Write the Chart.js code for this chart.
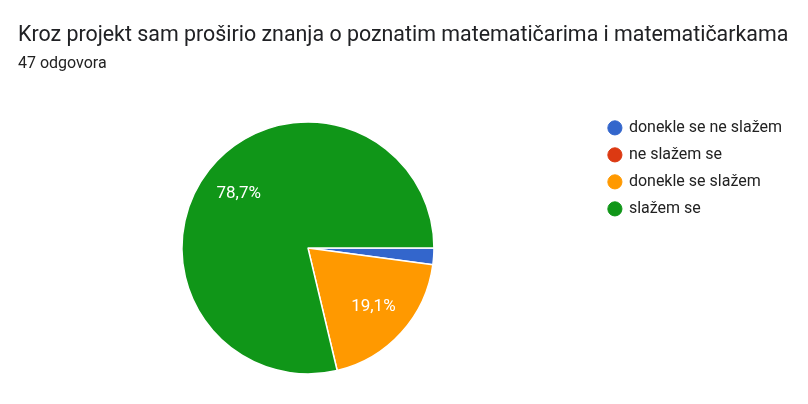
<!DOCTYPE html>
<html>
<head>
<meta charset="utf-8">
<script src="https://cdn.jsdelivr.net/npm/chart.js@4"></script>
<style>
  html, body { margin: 0; padding: 0; background: #fff; }
  #wrap { width: 808px; height: 404px; }
</style>
</head>
<body>
<div id="wrap"><canvas id="pieChart" width="808" height="404"></canvas></div>
<script>
// Podaci s grafikona (47 odgovora)
const naslov = 'Kroz projekt sam proširio znanja o poznatim matematičarima i matematičarkama';
const podnaslov = '47 odgovora';
const kategorije = ['donekle se ne slažem', 'ne slažem se', 'donekle se slažem', 'slažem se'];
const odgovori = [1, 0, 9, 37];
const boje = ['#3366cc', '#dc3912', '#ff9900', '#109618'];

Chart.defaults.font.family = 'Roboto';

// postoci unutar isječaka (kao u Google Formsu)
const postociPlugin = {
    id: 'postoci',
    afterDatasetsDraw(chart) {
        const ctx = chart.ctx;
        const meta = chart.getDatasetMeta(0);
        const ukupno = odgovori.reduce((a, b) => a + b, 0);
        ctx.save();
        ctx.font = '17px Roboto';
        ctx.fillStyle = '#ffffff';
        ctx.textAlign = 'center';
        ctx.textBaseline = 'middle';
        meta.data.forEach((arc, i) => {
            const pct = odgovori[i] / ukupno * 100;
            if (pct < 5) return;
            const kut = (arc.startAngle + arc.endAngle) / 2;
            const r = arc.outerRadius * 0.7;
            ctx.fillText(pct.toFixed(1).replace('.', ',') + '%', arc.x + Math.cos(kut) * r, arc.y + Math.sin(kut) * r);
        });
        ctx.restore();
    }
};

new Chart(document.getElementById('pieChart'), {
    type: 'pie',
    data: {
        labels: kategorije,
        datasets: [{
            data: odgovori,
            backgroundColor: boje,
            borderColor: '#ffffff',
            borderWidth: 1.5,
            radius: 126
        }]
    },
    options: {
        responsive: false,
        animation: false,
        rotation: 90,
        layout: { padding: { left: 18, right: 16, bottom: 17 } },
        plugins: {
            title: {
                display: true,
                text: naslov,
                align: 'start',
                color: '#202124',
                font: { size: 21.4, weight: 'normal' },
                padding: { top: 23, bottom: 6 }
            },
            subtitle: {
                display: true,
                text: podnaslov,
                align: 'start',
                color: '#222222',
                font: { size: 16 },
                padding: { bottom: 35 }
            },
            legend: {
                position: 'right',
                align: 'start',
                fullSize: false,
                labels: {
                    usePointStyle: true,
                    pointStyle: 'circle',
                    boxWidth: 12,
                    boxHeight: 10,
                    padding: 11,
                    color: '#222222',
                    font: { size: 16, lineHeight: 1.05 },
                    generateLabels(chart) {
                        const base = Chart.overrides.pie.plugins.legend.labels.generateLabels(chart);
                        return base.map(it => Object.assign(it, { strokeStyle: it.fillStyle, lineWidth: 1 }));
                    }
                }
            },
            tooltip: { enabled: false }
        }
    },
    plugins: [postociPlugin]
});
</script>
</body>
</html>
